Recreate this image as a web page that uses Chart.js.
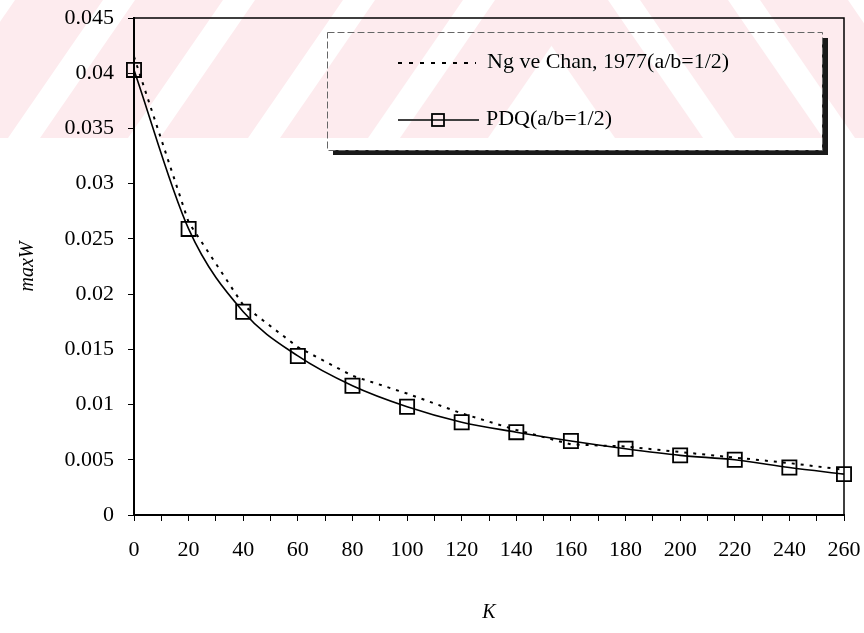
<!DOCTYPE html>
<html>
<head>
<meta charset="utf-8">
<script src="https://cdn.jsdelivr.net/npm/chart.js@4/dist/chart.umd.min.js"></script>
<style>
  body { margin: 0; background: #fff; }
  canvas { display: block; }
</style>
</head>
<body>
<canvas id="myChart" width="864" height="633"></canvas>
<script>
// K values and maximum deflection for the two solutions
const kValues = [0, 20, 40, 60, 80, 100, 120, 140, 160, 180, 200, 220, 240, 260];
const ngChan = [0.0415, 0.0265, 0.0190, 0.0152, 0.0126, 0.0110, 0.0092, 0.0077, 0.0064, 0.0062, 0.0057, 0.0052, 0.0047, 0.0041];
const pdq = [0.0403, 0.0259, 0.0184, 0.0144, 0.0117, 0.0098, 0.0084, 0.0075, 0.0067, 0.0060, 0.0054, 0.0050, 0.0043, 0.0037];

const ngLabel = 'Ng ve Chan, 1977(a/b=1/2)';
const pdqLabel = 'PDQ(a/b=1/2)';

const serif = "'Liberation Serif', 'Times New Roman', serif";

function toPoints(values) {
    return kValues.map((k, i) => ({ x: k, y: values[i] }));
}

// keep the plot area fixed: no extra room for overflowing tick labels
function noLabelPadding(scale) {
    scale.paddingLeft = 0;
    scale.paddingRight = 0;
    scale.paddingTop = 0;
    scale.paddingBottom = 0;
}

// frame on top/right of the plot area + boxed legend with drop shadow
const framePlugin = {
    id: 'frame',
    afterDatasetsDraw(chart) {
        const { ctx, chartArea: a } = chart;
        ctx.save();
        ctx.strokeStyle = '#000';
        ctx.lineWidth = 1.5;
        ctx.beginPath();
        ctx.moveTo(a.left, a.top);
        ctx.lineTo(a.right, a.top);
        ctx.lineTo(a.right, a.bottom);
        ctx.stroke();

        // legend box
        const bx = 327, by = 32, bw = 495, bh = 118;
        ctx.fillStyle = '#1a1a1a';
        ctx.fillRect(bx + 6, by + bh, bw, 5);
        ctx.fillRect(bx + bw, by + 6, 6, bh - 1);
        ctx.fillStyle = '#fff';
        ctx.fillRect(bx, by, bw, bh);
        ctx.strokeStyle = '#666';
        ctx.lineWidth = 1;
        ctx.setLineDash([7, 3]);
        ctx.strokeRect(bx + 0.5, by + 0.5, bw, bh);
        ctx.setLineDash([]);

        // dotted entry
        ctx.strokeStyle = '#000';
        ctx.lineWidth = 2;
        ctx.setLineDash([4, 7]);
        ctx.beginPath();
        ctx.moveTo(398, 63);
        ctx.lineTo(476, 63);
        ctx.stroke();
        ctx.setLineDash([]);

        // solid entry with square marker
        ctx.lineWidth = 1.6;
        ctx.beginPath();
        ctx.moveTo(398, 120);
        ctx.lineTo(479, 120);
        ctx.stroke();
        ctx.lineWidth = 1.8;
        ctx.strokeRect(432, 114, 12, 12);

        ctx.fillStyle = '#000';
        ctx.font = '22px ' + serif;
        ctx.textBaseline = 'middle';
        ctx.textAlign = 'left';
        ctx.fillText(ngLabel, 487, 62);
        ctx.fillText(pdqLabel, 486, 119);
        ctx.restore();
    }
};

// faint pink diagonal band across the top of the page
const watermarkPlugin = {
    id: 'watermark',
    afterDraw(chart) {
        const { ctx } = chart;
        const h = 138;
        ctx.save();
        ctx.beginPath();
        ctx.rect(0, 0, chart.width, h);
        ctx.clip();
        ctx.globalCompositeOperation = 'darken';
        ctx.fillStyle = 'rgb(253, 235, 238)';
        const period = 120, pink = 88, run = 95;
        for (let x0 = -200; x0 < 520; x0 += period) {
            ctx.beginPath();
            ctx.moveTo(x0, h);
            ctx.lineTo(x0 + pink, h);
            ctx.lineTo(x0 + pink + run, 0);
            ctx.lineTo(x0 + run, 0);
            ctx.closePath();
            ctx.fill();
        }
        for (let x0 = 520; x0 < 1000; x0 += period) {
            ctx.beginPath();
            ctx.moveTo(x0, 0);
            ctx.lineTo(x0 + pink, 0);
            ctx.lineTo(x0 + pink + run, h);
            ctx.lineTo(x0 + run, h);
            ctx.closePath();
            ctx.fill();
        }
        ctx.restore();
    }
};

const ctx = document.getElementById('myChart').getContext('2d');
const myChart = new Chart(ctx, {
    type: 'line',
    data: {
        datasets: [{
            label: ngLabel,
            data: toPoints(ngChan),
            borderColor: '#000',
            borderWidth: 2,
            borderDash: [3, 6],
            pointRadius: 0,
            tension: 0,
            clip: false
        }, {
            label: pdqLabel,
            data: toPoints(pdq),
            borderColor: '#000',
            borderWidth: 1.6,
            cubicInterpolationMode: 'monotone',
            pointStyle: 'rect',
            pointRadius: 10,
            pointBorderWidth: 1.8,
            pointBorderColor: '#000',
            pointBackgroundColor: 'rgba(0,0,0,0)',
            clip: false
        }]
    },
    options: {
        responsive: false,
        animation: false,
        layout: { padding: { top: 18, right: 20, left: 0, bottom: 0 } },
        plugins: {
            legend: { display: false },
            tooltip: { enabled: false }
        },
        scales: {
            x: {
                type: 'linear',
                min: 0,
                max: 260,
                afterFit: scale => { scale.height = 118; noLabelPadding(scale); },
                border: { display: true, color: '#000', width: 2 },
                grid: { drawOnChartArea: false, tickLength: 6, tickColor: '#000', tickWidth: 1 },
                ticks: {
                    stepSize: 10,
                    autoSkip: false,
                    maxRotation: 0,
                    color: '#000',
                    padding: 16,
                    font: { family: serif, size: 22 },
                    callback: v => (v % 20 === 0 ? String(v) : '')
                },
                title: {
                    display: true,
                    text: 'K',
                    color: '#000',
                    font: { family: serif, size: 20, style: 'italic' },
                    padding: { top: 0, bottom: 8 }
                }
            },
            y: {
                min: 0,
                max: 0.045,
                afterFit: scale => { scale.width = 134; noLabelPadding(scale); },
                border: { display: true, color: '#000', width: 2 },
                grid: { drawOnChartArea: false, tickLength: 6, tickColor: '#000', tickWidth: 1 },
                ticks: {
                    stepSize: 0.005,
                    color: '#000',
                    padding: 14,
                    font: { family: serif, size: 22 },
                    callback: v => String(Number(v.toFixed(3)))
                },
                title: {
                    display: true,
                    text: 'maxW',
                    color: '#000',
                    font: { family: serif, size: 20, style: 'italic' },
                    padding: { top: 16, bottom: 0 }
                }
            }
        }
    },
    plugins: [framePlugin, watermarkPlugin]
});
</script>
</body>
</html>
